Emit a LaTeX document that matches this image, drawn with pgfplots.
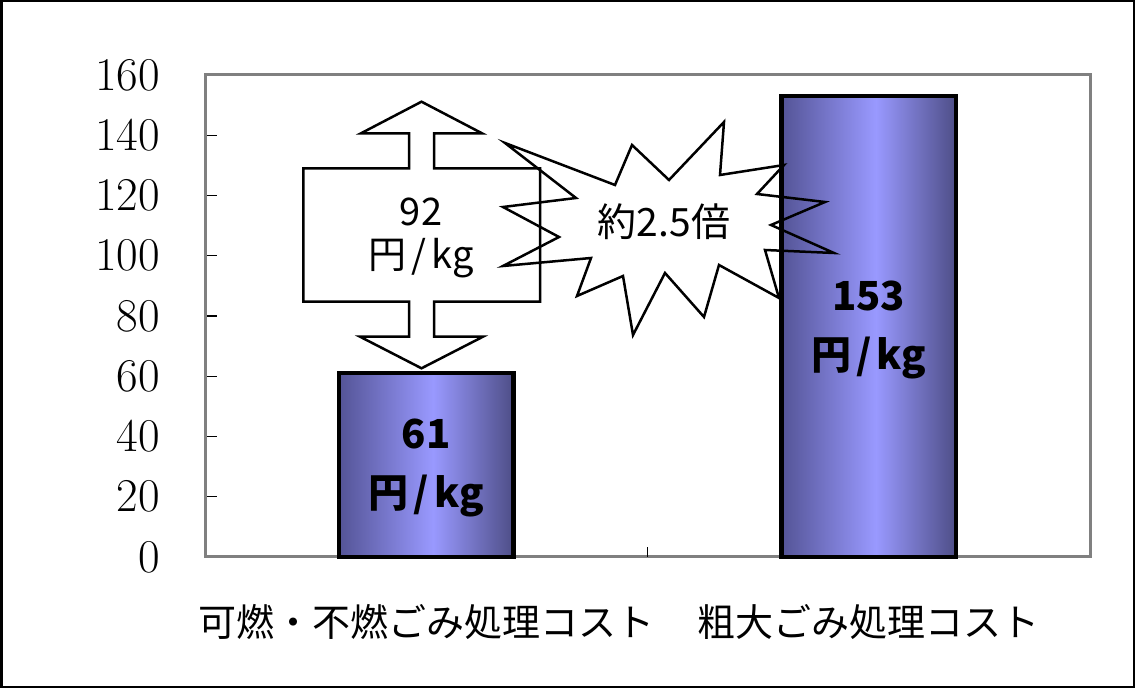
\documentclass[border=0pt]{standalone}
\usepackage{pgfplots}
\pgfplotsset{compat=1.18}
\usepackage{fontspec}
\newfontfamily\jp{Noto Sans CJK JP}

\definecolor{barL}{RGB}{84,84,150}
\definecolor{barM}{RGB}{153,153,255}
\definecolor{barR}{RGB}{78,78,135}
\definecolor{frame}{RGB}{128,128,128}
\pgfdeclarehorizontalshading{barshade}{100bp}{color(0bp)=(barL); color(25bp)=(barL);
  color(52bp)=(barM); color(75bp)=(barR); color(100bp)=(barR)}

\newcommand\yen{円\kern5pt/\kern5pt kg}

\begin{document}
\begin{tikzpicture}
\useasboundingbox (0,0) rectangle (1135pt,688pt);
\draw[line width=2.5pt] (1.25pt,1.25pt) rectangle (1133.75pt,686.75pt);

\begin{axis}[
  at={(205pt,131pt)}, anchor=south west,
  scale only axis, width=885pt, height=482pt,
  xmin=-0.5, xmax=1.5, ymin=0, ymax=160,
  ytick distance=20,
  ytick pos=left,
  tick align=inside,
  major tick length=12pt,
  tick style={black, line width=1.2pt},
  xtick={0,1},
  xticklabels={可燃・不燃ごみ処理コスト, 粗大ごみ処理コスト},
  xtick style={draw=none},
  axis line style={draw=frame, line width=3pt},
  /pgf/number format/assume math mode=true,
  yticklabel style={font=\fontsize{47}{47}\selectfont, inner sep=0pt, xshift=-45pt},
  xticklabel style={font=\jp\fontsize{38}{38}\selectfont, inner sep=0pt, anchor=center, yshift=-53pt},
  ybar, bar width=0.395, bar shift=0pt,
  clip=false,
]
  % one plot per bar so that each bar gets its own gradient
  \addplot[draw=black, line width=4.5pt, shading=barshade] coordinates {(0,61)};
  \addplot[draw=black, line width=4.5pt, shading=barshade] coordinates {(1,153)};

  % bar value labels, centred in each bar
  \node[font=\jp\bfseries\fontsize{40}{40}\selectfont, yshift=31pt] at (axis cs:0,61/2) {61};
  \node[font=\jp\bfseries\fontsize{40}{40}\selectfont, yshift=-31pt] at (axis cs:0,61/2) {\yen};
  \node[font=\jp\bfseries\fontsize{40}{40}\selectfont, yshift=31pt] at (axis cs:1,153/2) {153};
  \node[font=\jp\bfseries\fontsize{40}{40}\selectfont, yshift=-31pt] at (axis cs:1,153/2) {\yen};

  % small category separator tick
  \draw[black, line width=1.2pt] (axis cs:0.5,0) -- (axis cs:0.5,3.4);
\end{axis}

% callouts, in picture pixels (y downwards)
\begin{scope}[x=1pt, y=-1pt, shift={(0pt,688pt)}, line width=2.5pt, line join=miter]
  \draw (421.5,101.7) -- (482,133.3) -- (434,133.3) -- (434,168.3) -- (540,168.3)
    -- (540,301.7) -- (434,301.7) -- (434,336.7) -- (483,336.7) -- (421.5,368.3)
    -- (360,336.7) -- (409,336.7) -- (409,301.7) -- (303.3,301.7) -- (303.3,168.3)
    -- (409,168.3) -- (409,133.3) -- (361,133.3) -- cycle;
  \node[font=\jp\fontsize{38}{38}\selectfont] at (421,212) {92};
  \node[font=\jp\fontsize{38}{38}\selectfont] at (421,258) {\yen};

  \draw (505,143) -- (615,185) -- (632,145) -- (669,180) -- (724,122) -- (720,175)
    -- (784,165) -- (757,194) -- (825,202) -- (771,225) -- (834,253) -- (765,250)
    -- (779,298) -- (719,265) -- (704,317) -- (665,273) -- (633,335) -- (623,276)
    -- (577,296) -- (591,258) -- (503,266) -- (559,237) -- (503,207) -- (576,198) -- cycle;
  \node[font=\jp\fontsize{39}{39}\selectfont] at (664,222) {約2.5倍};
\end{scope}
\end{tikzpicture}
\end{document}
